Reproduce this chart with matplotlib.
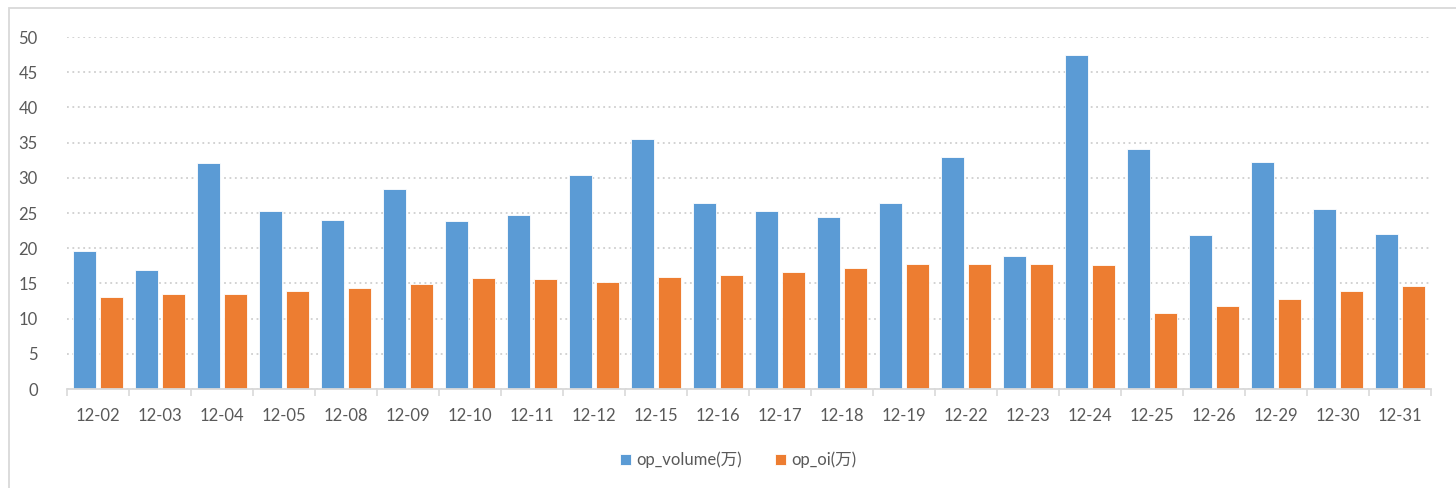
import matplotlib
matplotlib.use("Agg")
import matplotlib.pyplot as plt
import numpy as np
from matplotlib.patches import Rectangle

dates = ["12-02", "12-03", "12-04", "12-05", "12-08", "12-09", "12-10", "12-11",
         "12-12", "12-15", "12-16", "12-17", "12-18", "12-19", "12-22", "12-23",
         "12-24", "12-25", "12-26", "12-29", "12-30", "12-31"]
op_volume = [19.65, 16.85, 32.1, 25.25, 23.95, 28.45, 23.85, 24.75, 30.35, 35.55, 26.45,
             25.35, 24.5, 26.35, 32.95, 18.9, 47.45, 34.15, 21.85, 32.2, 25.5, 21.95]
op_oi = [13.1, 13.45, 13.55, 13.85, 14.35, 14.85, 15.75, 15.65, 15.2, 15.85, 16.15,
         16.65, 17.25, 17.75, 17.75, 17.7, 17.6, 10.85, 11.85, 12.75, 13.95, 14.65]
series_names = ["op_volume(万)", "op_oi(万)"]
y_ticks = [0, 5, 10, 15, 20, 25, 30, 35, 40, 45, 50]

plt.rcParams['font.family'] = ['Lato', 'Noto Sans CJK SC', 'DejaVu Sans']
TXT = "#595959"
GRID = "#D9D9D9"
BLUE = "#5B9BD5"
ORANGE = "#ED7D31"

W, H = 1456, 488
fig = plt.figure(figsize=(W / 100, H / 100), dpi=100)
ax = fig.add_axes([67 / W, 1 - 389 / H, (1431 - 67) / W, (389 - 37) / H])

x = np.arange(len(dates))
bw = 0.376
off = 0.216
b1 = ax.bar(x - off, op_volume, bw, color=BLUE, edgecolor="white", linewidth=0.6,
            label=series_names[0], zorder=3)
b2 = ax.bar(x + off, op_oi, bw, color=ORANGE, edgecolor="white", linewidth=0.6,
            label=series_names[1], zorder=3)

ax.set_xlim(-0.5, len(dates) - 0.5)
ax.set_ylim(0, 50)
ax.set_yticks(y_ticks)
ax.set_xticks(x)
ax.set_xticklabels(dates)
ax.set_xticks(np.arange(-0.5, len(dates), 1.0), minor=True)

ax.tick_params(axis='x', which='major', length=0, pad=14, labelsize=12, labelcolor=TXT)
ax.tick_params(axis='x', which='minor', length=5, width=1.2, color=GRID)
ax.tick_params(axis='y', length=0, pad=21, labelsize=12, labelcolor=TXT)

ax.grid(axis='y', color="#CFCFCF", linestyle=(0, (1, 2)), linewidth=1.3, zorder=0)
for s in ['top', 'right', 'left']:
    ax.spines[s].set_visible(False)
ax.spines['bottom'].set_color(GRID)
ax.spines['bottom'].set_linewidth(1.3)
ax.spines['bottom'].set_zorder(4)

leg = fig.legend(handles=[b1, b2], labels=series_names, loc='center',
                 bbox_to_anchor=(738 / W, 1 - 460 / H), ncol=2, frameon=False,
                 fontsize=12, handlelength=0.65, handleheight=0.65, handletextpad=0.3,
                 columnspacing=2.0)
for t in leg.get_texts():
    t.set_color(TXT)

border = Rectangle((8.5 / W, -0.1), 1.2, 1 - 7.5 / H + 0.1, transform=fig.transFigure,
                   fill=False, edgecolor="#D9D9D9", linewidth=1.3)
fig.patches.append(border)

fig.savefig("out.png", dpi=100)
